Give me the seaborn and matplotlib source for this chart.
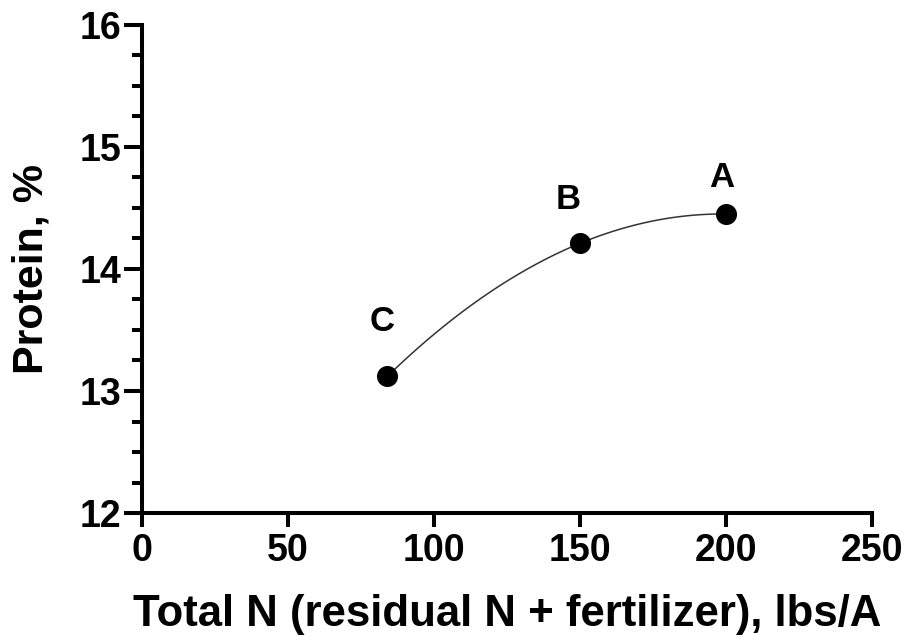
import numpy as np
import pandas as pd
import seaborn as sns
import matplotlib.pyplot as plt

# data
total_n = [84, 150, 200]
protein = [13.12, 14.21, 14.45]
point_labels = ['C', 'B', 'A']
label_x = [82.2, 146.0, 198.6]
label_y = [13.57, 14.57, 14.75]

df = pd.DataFrame({'total_n': total_n, 'protein': protein})

sns.set_style('ticks', {'axes.edgecolor': 'black', 'text.color': 'black',
                        'xtick.color': 'black', 'ytick.color': 'black',
                        'axes.labelcolor': 'black'})
plt.rcParams['font.family'] = ['Liberation Sans', 'DejaVu Sans']
plt.rcParams['font.weight'] = 'bold'

fig = plt.figure(figsize=(9.06, 6.35), dpi=100)
ax = fig.add_axes([0.1567, 0.192, 0.806, 0.769])

# quadratic fit curve, drawn over the data range only
sns.regplot(data=df, x='total_n', y='protein', order=2, ci=None, truncate=True,
            scatter=False, color='#333333', line_kws={'linewidth': 1.1}, ax=ax)
sns.scatterplot(data=df, x='total_n', y='protein', s=230, color='black',
                edgecolor='black', linewidth=0, zorder=5, ax=ax)

for lx, ly, lab in zip(label_x, label_y, point_labels):
    ax.text(lx, ly, lab, ha='center', va='center', fontsize=25, fontweight='bold')

ax.set_xlim(0, 250)
ax.set_ylim(12, 16)
ax.set_xticks([0, 50, 100, 150, 200, 250])
ax.set_yticks([12, 13, 14, 15, 16])
ax.set_yticks(np.arange(12, 16.01, 0.25), minor=True)

ax.set_xlabel('Total N (residual N + fertilizer), lbs/A', fontsize=31.5, fontweight='bold', labelpad=18)
ax.set_ylabel('Protein, %', fontsize=31, fontweight='bold', labelpad=20)

sns.despine(ax=ax)
for side in ['left', 'bottom']:
    ax.spines[side].set_linewidth(2.9)
ax.tick_params(axis='both', which='major', width=2.9, labelsize=27)
ax.tick_params(axis='x', which='major', length=10, pad=4)
ax.tick_params(axis='y', which='major', length=13, pad=2)
ax.tick_params(axis='y', which='minor', length=7, width=2.9)
for t in ax.get_xticklabels() + ax.get_yticklabels():
    t.set_fontweight('bold')

fig.savefig('out.png', dpi=100)
